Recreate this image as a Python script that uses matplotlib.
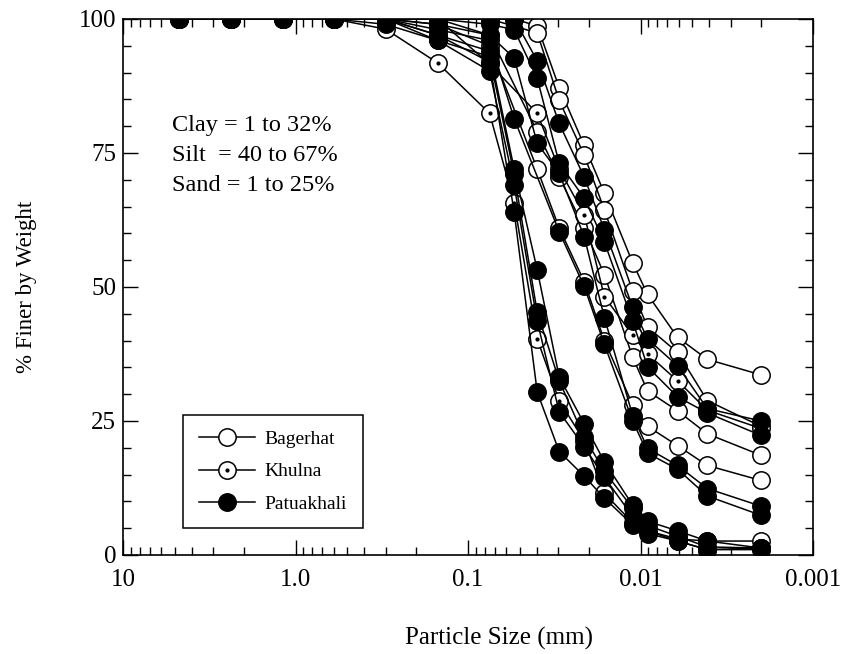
import matplotlib
matplotlib.use("Agg")
import matplotlib.pyplot as plt
from matplotlib.ticker import FixedLocator, FixedFormatter, LogLocator, NullFormatter, MultipleLocator
from matplotlib.legend_handler import HandlerTuple
import numpy as np

plt.rcParams['font.family'] = ['Liberation Serif', 'DejaVu Serif']

# particle sizes (mm)
sieve_mm = [4.75, 2.36, 1.18, 0.6, 0.3, 0.15, 0.075]
hydro_mm = [0.054, 0.0397, 0.0296, 0.0212, 0.0162, 0.0111, 0.0091, 0.0061, 0.0041, 0.0020]

# % finer, Bagerhat samples
bag_1_sieve = [100, 100, 100, 100, 100, 100, 100]
bag_1_hydro = [100, 98.7, 87.2, 76.4, 67.5, 54.5, 48.6, 40.6, 36.5, 33.6]
bag_2_sieve = [100, 100, 100, 100, 100, 100, 100]
bag_2_hydro = [None, 97.4, 84.8, 74.6, 64.4, 49.2, 42.5, 37.8, 28.8, 24.0]
bag_3_sieve = [100, 100, 100, 100, 100, 100, 97]
bag_3_hydro = [None, 79, 70.5, 61, 52.3, 36.9, 30.6, 26.9, 22.6, 18.6]
bag_4_sieve = [100, 100, 100, 100, 100, 99, 95]
bag_4_hydro = [None, 72, 61, 51, 40, 28, 24, 20.4, 16.7, 13.9]

# Khulna samples
khu_1_sieve = [100, 100, 100, 100, 98.1, 91.8, 82.4]
khu_1_hydro = [65.7, 40.3, 28.8, 21.3, 11.5, 6.0, 4.5, 3.0, 2.6, 2.6]
khu_2_sieve = [100, 100, 100, 100, 100, 100, 91.6]
khu_2_hydro = [None, 82.4, 72, 63.5, 48.2, 41, 37.5, 32.5, 27, 23.6]

# Patuakhali samples
pat_1_sieve = [100, 100, 100, 100, 100, 100, 100]
pat_1_hydro = [100, 92.2, 80.5, 70.5, 60.7, 46.2, 40.3, 35.3, 27.3, 25.0]
pat_2_sieve = [100, 100, 100, 100, 100, 100, 99]
pat_2_hydro = [98, 88.9, 73.1, 66.6, 58.4, 43.6, 35.1, 29.5, 26.5, 22.3]
pat_3_sieve = [100, 100, 100, 100, 100, 99, 97]
pat_3_hydro = [92.7, 76.8, 71.2, 59.4, 44.3, 26.0, 19.9, 16.7, 12.4, 9.1]
pat_4_sieve = [100, 100, 100, 100, 100, 98, 96]
pat_4_hydro = [81.4, None, 60.3, 50.1, 39.3, 25.0, 19.0, 16.0, 11.0, 7.4]
pat_5_sieve = [100, 100, 100, 100, 100, 97, 94]
pat_5_hydro = [72, 53.2, 33.2, 24.5, 17.4, 9.3, 6.3, 4.5, 2.6, 1.3]
pat_6_sieve = [100, 100, 100, 100, 100, 96, 93]
pat_6_hydro = [71, 45.3, 32.5, 22, 15.6, 8.7, 5.5, 3.5, 1.5, 1.3]
pat_7_sieve = [100, 100, 100, 100, 99, 96, 90.3]
pat_7_hydro = [69, 43.6, 26.7, 20.2, 14.5, 7.2, 4.5, 2.6, 1.0, 1.0]
pat_8_sieve = [100, 100, 100, 100, 100, 97, 92]
pat_8_hydro = [64, 30.4, 19.3, 14.7, 10.6, 5.6, 4.0, 2.6, 1.0, 1.3]

bagerhat = [(bag_1_sieve, bag_1_hydro), (bag_2_sieve, bag_2_hydro),
            (bag_3_sieve, bag_3_hydro), (bag_4_sieve, bag_4_hydro)]
khulna = [(khu_1_sieve, khu_1_hydro), (khu_2_sieve, khu_2_hydro)]
patuakhali = [(pat_1_sieve, pat_1_hydro), (pat_2_sieve, pat_2_hydro),
              (pat_3_sieve, pat_3_hydro), (pat_4_sieve, pat_4_hydro),
              (pat_5_sieve, pat_5_hydro), (pat_6_sieve, pat_6_hydro),
              (pat_7_sieve, pat_7_hydro), (pat_8_sieve, pat_8_hydro)]

x_ticks = [10, 1.0, 0.1, 0.01, 0.001]
x_tick_labels = ["10", "1.0", "0.1", "0.01", "0.001"]
y_ticks = [0, 25, 50, 75, 100]


def curve(sv, hv):
    xs = list(sieve_mm) + list(hydro_mm)
    ys = list(sv) + list(hv)
    pts = [(x, y) for x, y in zip(xs, ys) if y is not None]
    return [p[0] for p in pts], [p[1] for p in pts]


fig = plt.figure(figsize=(8.46, 6.54), dpi=100)
ax = fig.add_axes([0.1454, 0.1514, 0.8156, 0.8196])

ms = 12.5
mew = 1.1
lw = 1.1

for sv, hv in bagerhat:
    x, y = curve(sv, hv)
    hb, = ax.plot(x, y, '-', color='black', lw=lw, marker='o', ms=ms,
                  mfc='white', mec='black', mew=mew, zorder=2)

for sv, hv in khulna:
    x, y = curve(sv, hv)
    hk, = ax.plot(x, y, '-', color='black', lw=lw, marker='o', ms=ms,
                  mfc='white', mec='black', mew=mew, zorder=3)
    hkd, = ax.plot(x, y, linestyle='none', marker='o', ms=2.0,
                   mfc='black', mec='black', zorder=3.5)

for sv, hv in patuakhali:
    x, y = curve(sv, hv)
    hp, = ax.plot(x, y, '-', color='black', lw=lw, marker='o', ms=ms,
                  mfc='black', mec='black', mew=mew, zorder=4)

ax.set_xscale('log')
ax.set_xlim(10, 0.001)
ax.set_ylim(0, 100)

ax.xaxis.set_major_locator(FixedLocator(x_ticks))
ax.xaxis.set_major_formatter(FixedFormatter(x_tick_labels))
ax.xaxis.set_minor_locator(LogLocator(base=10, subs=np.arange(2, 10), numticks=20))
ax.xaxis.set_minor_formatter(NullFormatter())
ax.yaxis.set_major_locator(FixedLocator(y_ticks))
ax.yaxis.set_minor_locator(MultipleLocator(5))

ax.tick_params(which='both', direction='in', top=True, right=True, labelsize=18, width=1.0)
ax.tick_params(which='major', length=11)
ax.tick_params(which='minor', length=6)
ax.tick_params(axis='x', which='major', pad=10)
ax.tick_params(axis='y', which='major', pad=5)
for s in ax.spines.values():
    s.set_linewidth(1.2)

ax.set_xlabel('Particle Size (mm)', fontsize=18, labelpad=26)
ax.xaxis.set_label_coords(0.545, -0.135)
ax.set_ylabel('% Finer by Weight', fontsize=16.5, labelpad=30)

ax.text(0.071, 0.802, 'Clay = 1 to 32%', transform=ax.transAxes, fontsize=17.5, va='center')
ax.text(0.071, 0.746, 'Silt  = 40 to 67%', transform=ax.transAxes, fontsize=17.5, va='center')
ax.text(0.071, 0.690, 'Sand = 1 to 25%', transform=ax.transAxes, fontsize=17.5, va='center')

leg = ax.legend([hb, (hk, hkd), hp], ['Bagerhat', 'Khulna', 'Patuakhali'],
                handler_map={tuple: HandlerTuple(ndivide=1)},
                loc='lower left', bbox_to_anchor=(0.087, 0.05), fontsize=14,
                frameon=True, fancybox=False, edgecolor='black', framealpha=1,
                handlelength=2.9, handletextpad=0.5, borderpad=0.8, labelspacing=0.75,
                borderaxespad=0)
leg.get_frame().set_linewidth(1.1)

fig.savefig('out.png', dpi=100)
